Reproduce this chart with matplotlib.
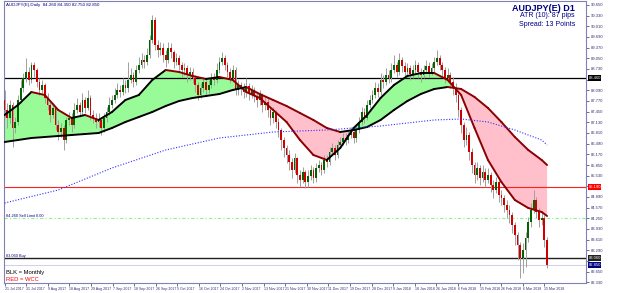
import numpy as np
import pandas as pd
import matplotlib
matplotlib.use("Agg")
import matplotlib.pyplot as plt
import matplotlib.transforms as mtransforms

plt.rcParams["font.family"] = ["Liberation Sans", "DejaVu Sans"]

# AUDJPY(E) daily candles, 21 Jul 2017 .. 16 Mar 2018
first_open = 87.80
close = [87.50, 87.26, 87.65, 86.96, 87.14, 87.80, 88.16, 88.46, 88.64, 88.40,
         88.85, 88.70, 88.34, 88.10, 88.25, 87.86, 87.65, 87.35, 87.56, 87.05,
         86.84, 86.96, 86.60, 87.20, 87.26, 87.05, 87.50, 87.65, 87.44, 87.80,
         87.56, 87.86, 87.35, 87.26, 87.14, 87.20, 86.96, 87.26, 87.44, 87.65,
         87.80, 87.95, 88.10, 88.04, 88.25, 88.16, 88.40, 88.55, 88.34, 88.70,
         88.85, 89.00, 88.94, 89.15, 89.60, 90.20, 89.45, 89.30, 89.36, 89.15,
         89.00, 89.36, 89.24, 88.94, 89.06, 88.85, 88.70, 88.76, 88.55, 88.64,
         88.46, 88.25, 87.95, 88.16, 88.34, 88.10, 88.25, 88.46, 88.40, 88.70,
         88.94, 89.06, 88.85, 88.64, 88.46, 88.70, 88.10, 88.25, 88.16, 88.04,
         88.22, 87.98, 88.10, 87.92, 87.80, 87.95, 87.65, 87.74, 87.50, 87.26,
         87.44, 87.14, 86.90, 86.60, 86.36, 86.15, 85.94, 85.70, 86.06, 85.55,
         85.40, 85.64, 85.34, 85.52, 85.70, 85.46, 85.76, 85.85, 85.70, 86.00,
         85.94, 86.24, 86.36, 86.15, 86.45, 86.54, 86.66, 86.60, 86.75, 86.84,
         86.66, 86.90, 87.14, 87.44, 87.26, 87.65, 87.80, 87.95, 88.16, 88.04,
         88.40, 88.34, 88.55, 88.46, 88.70, 88.85, 88.64, 89.00, 88.82, 88.64,
         88.76, 88.58, 88.70, 88.85, 88.64, 88.55, 88.70, 88.82, 88.64, 88.76,
         88.94, 89.06, 88.85, 88.70, 88.46, 88.55, 88.34, 88.16, 87.95, 87.50,
         87.05, 86.60, 86.75, 86.24, 85.85, 85.55, 85.76, 85.46, 85.64, 85.40,
         85.55, 85.25, 85.10, 85.34, 84.95, 84.86, 84.65, 84.50, 84.35, 84.05,
         83.75, 83.45, 83.06, 83.30, 83.66, 84.14, 84.50, 84.80, 84.44, 84.20,
         84.26, 83.60, 82.85]
high = [88.10, 87.70, 87.80, 87.75, 87.30, 87.95, 88.40, 88.60, 89.05, 88.80,
        88.95, 88.95, 88.75, 88.45, 88.40, 88.30, 88.00, 87.75, 87.70, 87.60,
        87.20, 87.10, 87.05, 87.30, 87.45, 87.40, 87.70, 87.85, 87.75, 88.00,
        87.90, 88.10, 87.95, 87.50, 87.40, 87.40, 87.30, 87.40, 87.60, 87.90,
        87.95, 88.15, 88.30, 88.25, 88.45, 88.40, 88.95, 88.75, 88.65, 88.85,
        89.10, 89.20, 89.15, 89.35, 89.75, 90.35, 90.30, 89.60, 89.55, 89.50,
        89.30, 89.55, 89.50, 89.30, 89.20, 89.15, 88.95, 88.90, 88.85, 88.80,
        88.75, 88.55, 88.35, 88.30, 88.50, 88.45, 88.40, 88.60, 88.60, 88.90,
        89.10, 89.25, 89.15, 88.95, 88.75, 88.85, 88.80, 88.40, 88.35, 88.30,
        88.45, 88.30, 88.25, 88.20, 88.05, 88.10, 88.00, 87.90, 87.85, 87.60,
        87.60, 87.50, 87.25, 86.95, 86.70, 86.45, 86.30, 86.05, 86.20, 86.10,
        85.70, 85.80, 85.70, 85.70, 85.85, 85.80, 85.90, 86.00, 85.95, 86.15,
        86.15, 86.40, 86.50, 86.45, 86.60, 86.70, 86.80, 86.80, 86.90, 87.00,
        86.95, 87.05, 87.30, 87.60, 87.55, 87.80, 87.95, 88.10, 88.35, 88.30,
        88.60, 88.55, 88.75, 88.70, 88.90, 89.15, 88.95, 89.20, 89.10, 88.95,
        88.90, 88.85, 88.85, 89.00, 88.95, 88.75, 88.85, 89.00, 88.95, 88.90,
        89.10, 89.30, 89.15, 88.95, 88.80, 88.75, 88.65, 88.50, 88.30, 88.05,
        87.60, 87.15, 87.00, 86.85, 86.35, 85.95, 85.95, 85.85, 85.85, 85.75,
        85.75, 85.65, 85.40, 85.50, 85.40, 85.10, 84.95, 84.80, 84.65, 84.45,
        84.15, 83.85, 83.55, 83.50, 83.85, 84.30, 84.70, 85.10, 84.90, 84.55,
        84.45, 84.35, 83.70]
low = [87.30, 86.95, 87.10, 86.40, 86.80, 87.05, 87.70, 88.05, 88.35, 88.25,
       88.30, 88.50, 88.20, 87.95, 88.00, 87.70, 87.50, 87.15, 87.25, 86.90,
       86.60, 86.70, 86.30, 86.50, 87.05, 86.85, 86.95, 87.40, 87.30, 87.35,
       87.40, 87.50, 87.20, 87.10, 86.95, 87.00, 86.75, 86.85, 87.15, 87.35,
       87.55, 87.70, 87.85, 87.90, 87.95, 88.00, 88.05, 88.30, 88.20, 88.25,
       88.60, 88.75, 88.75, 88.85, 89.05, 89.50, 89.30, 89.10, 89.15, 88.95,
       88.80, 88.90, 89.05, 88.75, 88.85, 88.70, 88.50, 88.55, 88.35, 88.40,
       88.30, 88.05, 87.80, 87.85, 88.05, 87.95, 88.00, 88.15, 88.25, 88.30,
       88.60, 88.85, 88.70, 88.50, 88.30, 88.35, 87.95, 87.95, 87.95, 87.85,
       87.90, 87.80, 87.85, 87.75, 87.60, 87.65, 87.45, 87.50, 87.30, 87.05,
       87.10, 86.95, 86.70, 86.30, 86.10, 85.90, 85.70, 85.45, 85.60, 85.30,
       85.20, 85.30, 85.15, 85.20, 85.40, 85.30, 85.35, 85.65, 85.55, 85.60,
       85.80, 85.85, 86.15, 86.00, 86.05, 86.35, 86.45, 86.45, 86.50, 86.65,
       86.50, 86.55, 86.80, 87.05, 87.10, 87.20, 87.55, 87.70, 87.85, 87.90,
       87.95, 88.15, 88.25, 88.30, 88.35, 88.60, 88.50, 88.55, 88.65, 88.45,
       88.50, 88.40, 88.45, 88.60, 88.45, 88.35, 88.45, 88.60, 88.50, 88.55,
       88.65, 88.85, 88.70, 88.50, 88.30, 88.35, 88.15, 87.95, 87.75, 87.30,
       86.80, 86.40, 86.45, 86.00, 85.60, 85.30, 85.40, 85.25, 85.35, 85.20,
       85.30, 85.05, 84.85, 85.00, 84.75, 84.65, 84.45, 84.25, 84.10, 83.80,
       83.45, 83.00, 82.45, 82.60, 82.80, 83.55, 84.00, 84.40, 84.25, 84.00,
       84.05, 83.40, 82.75]

# moving averages at every 5th bar
ma_idx = [0, 5, 10, 15, 20, 25, 30, 35, 40, 45, 50, 55, 60, 65, 70, 75, 80, 85,
          90, 95, 100, 105, 110, 115, 120, 125, 130, 135, 140, 145, 150, 155,
          160, 165, 170, 175, 180, 185, 190, 195, 200, 202]
fast_ma = [87.35, 87.65, 88.04, 87.95, 87.50, 87.26, 87.35, 87.20, 87.44, 87.80,
           87.95, 88.40, 88.70, 88.64, 88.52, 88.43, 88.49, 88.40, 88.04, 87.86,
           87.50, 87.14, 86.60, 86.15, 86.00, 86.36, 86.96, 87.35, 87.86, 88.25,
           88.52, 88.61, 88.61, 88.40, 87.95, 86.96, 86.00, 85.34, 84.80, 84.56,
           84.44, 84.32]
slow_ma = [86.54, 86.60, 86.66, 86.69, 86.72, 86.75, 86.78, 86.81, 86.96, 87.14,
           87.29, 87.44, 87.62, 87.77, 87.86, 87.92, 87.98, 88.10, 88.19, 87.98,
           87.80, 87.62, 87.41, 87.20, 86.96, 86.84, 86.90, 86.99, 87.20, 87.50,
           87.77, 87.98, 88.13, 88.19, 88.13, 87.89, 87.56, 87.14, 86.69, 86.30,
           86.00, 85.85]
long_idx = [0, 20, 40, 60, 80, 100, 120, 140, 160, 170, 180, 190, 200, 202]
long_ma = [84.71, 85.10, 85.76, 86.30, 86.66, 86.84, 86.90, 87.02, 87.20, 87.23,
           87.14, 86.90, 86.60, 86.45]

# horizontal levels
level_black = 88.46
level_red = 85.19
level_green = 84.26
level_low = 83.06
bid = 82.85

date_labels = ["21 Jul 2017", "31 Jul 2017", "9 Aug 2017", "18 Aug 2017",
               "29 Aug 2017", "7 Sep 2017", "18 Sep 2017", "26 Sep 2017",
               "5 Oct 2017", "16 Oct 2017", "24 Oct 2017", "2 Nov 2017",
               "13 Nov 2017", "21 Nov 2017", "30 Nov 2017", "11 Dec 2017",
               "19 Dec 2017", "28 Dec 2017", "9 Jan 2018", "18 Jan 2018",
               "26 Jan 2018", "6 Feb 2018", "15 Feb 2018", "26 Feb 2018",
               "6 Mar 2018", "15 Mar 2018"]
price_ticks = [82.33, 82.65, 82.97, 83.29, 83.61, 83.93, 84.25, 84.57, 84.89,
               85.21, 85.53, 85.85, 86.17, 86.49, 86.81, 87.13, 87.45, 87.77,
               88.09, 88.41, 88.73, 89.05, 89.37, 89.69, 90.01, 90.33, 90.65]

c = np.array(close)
o = np.r_[first_open, c[:-1]]
x = np.arange(len(c))
fast = np.array(fast_ma)
slow = np.array(slow_ma)
boxes = [(level_black, "black"), (level_red, "#ff0000"),
         (level_low, "#202020"), (bid, "#000080")]

fig = plt.figure(figsize=(6.25, 2.93), dpi=100)
ax = fig.add_axes([4 / 625, 10 / 293, 582 / 625, 282 / 293])
ax.set_xlim(-0.2, 216.5)
ax.set_ylim(82.31, 90.77)

# cloud between the two averages
ax.fill_between(ma_idx, fast, slow, where=fast >= slow, interpolate=True,
                color="#98fb98", lw=0, zorder=1)
ax.fill_between(ma_idx, fast, slow, where=fast < slow, interpolate=True,
                color="#ffc0cb", lw=0, zorder=1)

# level lines
ax.axhline(level_black, color="black", lw=0.9, zorder=2)
ax.axhline(level_red, color="#ff2020", lw=0.8, zorder=2)
ax.axhline(level_green, color="#90ee90", lw=0.8, ls=(0, (3, 2, 1, 2)), zorder=2)
ax.axhline(level_low, color="#202020", lw=1.0, zorder=2)
ax.axhline(bid, color="#c8c8e8", lw=0.6, zorder=2)

# candles
ax.vlines(x, low, high, color="#a0a0a0", lw=0.7, zorder=3)
body_lo = np.minimum(o, c)
body_h = np.maximum(np.abs(c - o), 0.02)
colors = np.where(c >= o, "#006400", "#d00000")
ax.bar(x, body_h, bottom=body_lo, width=0.66, color=colors, lw=0, zorder=4)

# averages, dark when rising and dark red when falling
for series in (fast, slow):
    for k in range(len(ma_idx) - 1):
        col = "black" if series[k + 1] >= series[k] else "#8b0000"
        ax.plot(ma_idx[k:k + 2], series[k:k + 2], color=col, lw=1.4,
                solid_capstyle="round", zorder=5)
ax.plot(long_idx, long_ma, color="#3030ff", lw=0.8, ls=(0, (1, 1.5)), zorder=5)

# axes styling
for s in ax.spines.values():
    s.set_color("#8080b8")
    s.set_linewidth(0.8)
ax.yaxis.tick_right()
ax.set_yticks(price_ticks)
ax.set_yticklabels(["" if min(abs(v - b) for b, _ in boxes) < 0.16 else f"{v:.3f}"
                    for v in price_ticks])
ax.tick_params(axis="y", labelsize=3.0, length=2, width=0.5, colors="#303070", pad=1.5)
# date labels sit at even spacing along the time axis, as the terminal draws them
step = (len(c) - 2) / (len(date_labels) - 1)
ax.set_xticks([k * step for k in range(len(date_labels))])
ax.set_xticklabels(date_labels)
ax.tick_params(axis="x", labelsize=2.6, length=2, width=0.5, colors="#303070", pad=1)
for lab in ax.get_xticklabels():
    lab.set_horizontalalignment("left")

# price boxes on the axis
trans = mtransforms.blended_transform_factory(ax.transAxes, ax.transData)
for val, fc in boxes:
    ax.text(1.004, val, f"{val:.3f}", transform=trans, fontsize=3.0, color="white",
            va="center", ha="left", clip_on=False, zorder=10,
            bbox=dict(boxstyle="square,pad=0.15", fc=fc, ec="none"))

ax.text(0.004, level_green, f"{level_green:.3f} Sell Limit 0.00", transform=trans,
        fontsize=2.8, color="#000080", va="bottom")
ax.text(0.004, level_low, f"{level_low:.3f} Buy", transform=trans,
        fontsize=2.8, color="#000080", va="bottom")

# headers
ax.text(0.003, 0.993, "AUDJPY(E),Daily  84.260 84.350 82.750 82.850",
        transform=ax.transAxes, fontsize=3.2, color="#000080", va="top")
ax.text(0.981, 0.989, "AUDJPY(E) D1", transform=ax.transAxes, fontsize=6.5,
        fontweight="bold", color="#000080", ha="right", va="top")
ax.text(0.981, 0.947, "ATR (10): 87 pips", transform=ax.transAxes, fontsize=5,
        color="#000080", ha="right", va="center")
ax.text(0.981, 0.918, "Spread: 13 Points", transform=ax.transAxes, fontsize=5,
        color="#000080", ha="right", va="center")
ax.text(0.003, 0.038, "BLK = Monthly", transform=ax.transAxes, fontsize=4.2,
        color="black", va="center")
ax.text(0.003, 0.012, "RED = WCC", transform=ax.transAxes, fontsize=4.2,
        color="#ff0000", va="center")

fig.savefig("out.png", dpi=100)
